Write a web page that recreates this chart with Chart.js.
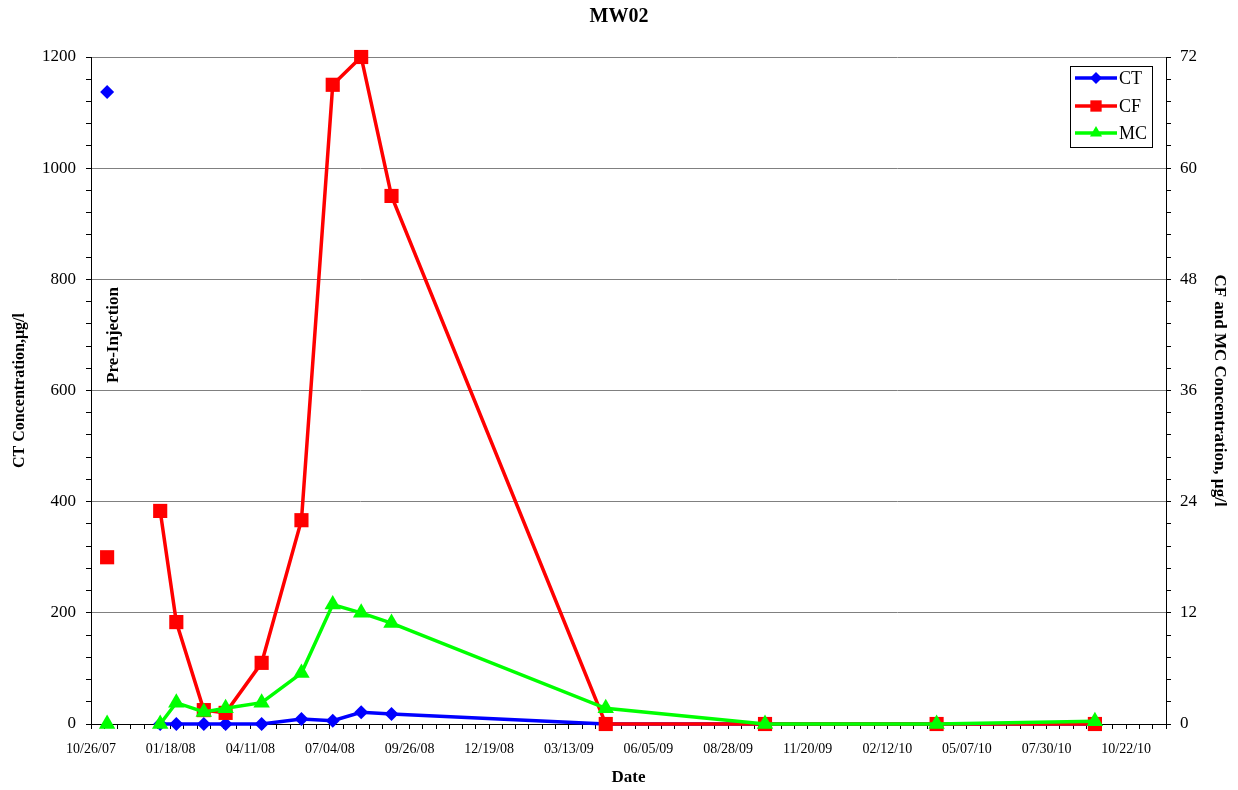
<!DOCTYPE html>
<html>
<head>
<meta charset="utf-8">
<title>MW02</title>
<script src="https://cdn.jsdelivr.net/npm/chart.js@4.4.1/dist/chart.umd.min.js"></script>
<style>
  html, body { margin: 0; padding: 0; background: #ffffff; }
  #wrap { width: 1238px; height: 790px; }
</style>
</head>
<body>
<div id="wrap"><canvas id="chart" width="1238" height="790"></canvas></div>
<script>
// Monitoring well MW02: carbon tetrachloride (CT), chloroform (CF), methylene chloride (MC)
const chartTitle = 'MW02';
const preInjectionDate = '11/12/07';
const ctPreInjection = 1137;
const cfPreInjection = 18;
const mcPreInjection = 0;

const sampleDates = ['01/07/08', '01/24/08', '02/22/08', '03/16/08', '04/23/08', '06/04/08',
                     '07/07/08', '08/06/08', '09/07/08', '04/21/09', '10/06/09', '04/05/10', '09/19/10'];
const ctValues = [0, 0, 0, 0, 0, 9, 6, 21, 18, 0, 0, 0, 0];          // µg/l, left axis
const cfValues = [23, 11, 1.5, 1.2, 6.6, 22, 69, 72, 57, 0, 0, 0, 0]; // µg/l, right axis
const mcValues = [0, 2.3, 1.3, 1.7, 2.3, 5.5, 12.9, 12, 10.9, 1.7, 0, 0, 0.3];

const seriesNames = ['CT', 'CF', 'MC'];
const leftAxisTitle = 'CT Concentration,\u00b5g/l';
const rightAxisTitle = 'CF and MC Concentration, \u00b5g/l';
const xAxisTitle = 'Date';
const annotationText = 'Pre-Injection';

// Axis extents (days counted from the first labelled date)
const axisStartDate = '10/26/07';
const axisEndDay = 1134;
const labelIntervalDays = 84;
const minorIntervalDays = 14;
const leftMax = 1200, leftMajor = 200, leftMinor = 40;
const rightMax = 72, rightMajor = 12, rightMinor = 2.4;

const DAY_MS = 86400000;
function parseDate(s) {
  const [m, d, y] = s.split('/').map(Number);
  return Date.UTC(2000 + y, m - 1, d);
}
const originMs = parseDate(axisStartDate);
function dayOf(s) { return Math.round((parseDate(s) - originMs) / DAY_MS); }
function fmtDay(day) {
  const dt = new Date(originMs + day * DAY_MS);
  const p = n => String(n).padStart(2, '0');
  return p(dt.getUTCMonth() + 1) + '/' + p(dt.getUTCDate()) + '/' + p(dt.getUTCFullYear() % 100);
}

// Pre-injection sample stands alone, then a gap, then the monitoring record
function buildSeries(preValue, values) {
  const pts = [{ x: dayOf(preInjectionDate), y: preValue }, { x: dayOf(preInjectionDate), y: null }];
  sampleDates.forEach((d, i) => pts.push({ x: dayOf(d), y: values[i] }));
  return pts;
}

const SERIF = '"Liberation Serif", "Times New Roman", serif';
const isMultiple = (v, step) => Math.abs(v / step - Math.round(v / step)) < 1e-6;

const chartDecor = {
  id: 'chartDecor',
  afterDraw(chart) {
    const ctx = chart.ctx;
    ctx.save();
    // Title
    ctx.fillStyle = '#000';
    ctx.font = 'bold 20px ' + SERIF;
    ctx.textAlign = 'center';
    ctx.textBaseline = 'middle';
    ctx.fillText(chartTitle, 619, 17);

    // Pre-injection annotation beside the first sample
    const xs = chart.scales.x;
    const px = xs.getPixelForValue(dayOf(preInjectionDate)) + 6;
    ctx.save();
    ctx.translate(px, 335);
    ctx.rotate(-Math.PI / 2);
    ctx.font = 'bold 17px ' + SERIF;
    ctx.fillText(annotationText, 0, 0);
    ctx.restore();

    // Legend box in the upper-right corner of the plot
    const bx = 1070, by = 66, bw = 82, bh = 81;
    ctx.fillStyle = '#fff';
    ctx.fillRect(bx, by, bw, bh);
    ctx.strokeStyle = '#000';
    ctx.lineWidth = 1;
    ctx.strokeRect(bx + 0.5, by + 0.5, bw, bh);
    const rows = [78, 106, 133];
    chart.data.datasets.forEach((ds, i) => {
      const y = rows[i];
      ctx.strokeStyle = ds.borderColor;
      ctx.lineWidth = 3.5;
      ctx.beginPath();
      ctx.moveTo(1075, y);
      ctx.lineTo(1117, y);
      ctx.stroke();
      ctx.fillStyle = ds.backgroundColor;
      Chart.helpers.drawPoint(ctx, {
        pointStyle: ds.pointStyle,
        radius: ds.legendRadius,
        borderWidth: 0,
        rotation: 0
      }, 1096, y);
      ctx.fillStyle = '#000';
      ctx.font = '18px ' + SERIF;
      ctx.textAlign = 'left';
      ctx.textBaseline = 'middle';
      ctx.fillText(ds.label, 1119, y + 1);
    });
    ctx.restore();
  }
};

new Chart(document.getElementById('chart'), {
  type: 'line',
  data: {
    datasets: [
      {
        label: seriesNames[0],
        data: buildSeries(ctPreInjection, ctValues),
        yAxisID: 'yLeft',
        borderColor: '#0000ff',
        backgroundColor: '#0000ff',
        pointStyle: 'rectRot',
        pointRadius: 7,
        legendRadius: 6,
        order: 3
      },
      {
        label: seriesNames[1],
        data: buildSeries(cfPreInjection, cfValues),
        yAxisID: 'yRight',
        borderColor: '#ff0000',
        backgroundColor: '#ff0000',
        pointStyle: 'rect',
        pointRadius: 10,
        legendRadius: 8,
        order: 2
      },
      {
        label: seriesNames[2],
        data: buildSeries(mcPreInjection, mcValues),
        yAxisID: 'yRight',
        borderColor: '#00ff00',
        backgroundColor: '#00ff00',
        pointStyle: 'triangle',
        pointRadius: 9.5,
        legendRadius: 7,
        order: 1
      }
    ].map(ds => Object.assign({
      borderWidth: 3.5,
      pointBorderWidth: 0,
      pointHoverRadius: ds.pointRadius,
      tension: 0,
      spanGaps: false,
      clip: false,
      fill: false
    }, ds))
  },
  options: {
    responsive: false,
    animation: false,
    layout: { padding: { top: 57, left: 0, right: 0, bottom: 0 } },
    plugins: {
      legend: { display: false },
      title: { display: false },
      tooltip: { enabled: false }
    },
    scales: {
      x: {
        type: 'linear',
        position: 'bottom',
        min: 0,
        max: axisEndDay,
        afterFit(scale) { scale.height = 66; },
        ticks: {
          stepSize: minorIntervalDays,
          includeBounds: false,
          autoSkip: false,
          maxRotation: 0,
          minRotation: 0,
          padding: 12,
          color: '#000',
          font: { family: SERIF, size: 14 },
          callback: v => isMultiple(v, labelIntervalDays) ? fmtDay(v) : ''
        },
        grid: { drawOnChartArea: false, drawTicks: true, tickLength: 5, tickColor: '#000', tickWidth: 1 },
        border: { display: true, color: '#000', width: 1 },
        title: {
          display: true,
          text: xAxisTitle,
          color: '#000',
          font: { family: SERIF, size: 17, weight: 'bold' },
          padding: { top: 0, bottom: 2 }
        }
      },
      yLeft: {
        type: 'linear',
        position: 'left',
        min: 0,
        max: leftMax,
        afterFit(scale) { scale.width = 91; },
        ticks: {
          stepSize: leftMinor,
          autoSkip: false,
          padding: 10,
          color: '#000',
          font: { family: SERIF, size: 17 },
          callback: v => isMultiple(v, leftMajor) ? String(v) : ''
        },
        grid: {
          drawOnChartArea: true,
          tickLength: 5,
          tickColor: '#000',
          color: c => (c.tick && isMultiple(c.tick.value, leftMajor) && c.tick.value > 0) ? '#808080' : 'rgba(0,0,0,0)',
          lineWidth: 1
        },
        border: { display: true, color: '#000', width: 1 },
        title: {
          display: true,
          text: leftAxisTitle,
          color: '#000',
          font: { family: SERIF, size: 16, weight: 'bold' },
          padding: { top: 10, bottom: 0 }
        }
      },
      yRight: {
        type: 'linear',
        position: 'right',
        min: 0,
        max: rightMax,
        afterFit(scale) { scale.width = 72; },
        ticks: {
          stepSize: rightMinor,
          autoSkip: false,
          padding: 9,
          color: '#000',
          font: { family: SERIF, size: 17 },
          callback: v => isMultiple(v, rightMajor) ? String(Math.round(v)) : ''
        },
        grid: { drawOnChartArea: false, tickLength: 5, tickColor: '#000' },
        border: { display: true, color: '#000', width: 1 },
        title: {
          display: true,
          text: rightAxisTitle,
          color: '#000',
          font: { family: SERIF, size: 17, weight: 'bold' },
          padding: { top: 8, bottom: 0 }
        }
      }
    }
  },
  plugins: [chartDecor]
});
</script>
</body>
</html>
